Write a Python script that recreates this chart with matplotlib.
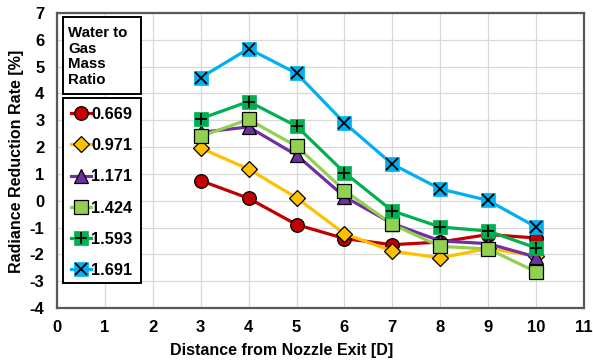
import numpy as np
import matplotlib.pyplot as plt
from matplotlib.patches import Rectangle

plt.rcParams["font.family"] = ["Liberation Sans", "DejaVu Sans"]
plt.rcParams["font.weight"] = "bold"
plt.rcParams["axes.unicode_minus"] = False

distance = [3, 4, 5, 6, 7, 8, 9, 10]
ratio_labels = ["0.669", "0.971", "1.171", "1.424", "1.593", "1.691"]

r_0669 = [0.75, 0.09, -0.89, -1.41, -1.64, -1.54, -1.26, -1.39]
r_0971 = [1.96, 1.18, 0.11, -1.23, -1.88, -2.13, -1.78, -2.06]
r_1171 = [2.55, 2.75, 1.70, 0.15, -0.85, -1.50, -1.60, -2.10]
r_1424 = [2.40, 3.03, 2.03, 0.38, -0.88, -1.70, -1.80, -2.65]
r_1593 = [3.06, 3.70, 2.78, 1.05, -0.38, -0.98, -1.13, -1.76]
r_1691 = [4.59, 5.67, 4.75, 2.90, 1.36, 0.44, 0.01, -0.98]

series = [r_0669, r_0971, r_1171, r_1424, r_1593, r_1691]
colors = ["#C00000", "#FFC000", "#7030A0", "#92D050", "#00B050", "#00B0F0"]
markers = ["o", "D", "^", "s", "s", "s"]
msizes = [9.8, 8.5, 9.5, 9.5, 9.5, 9.5]
overlay = [None, None, None, None, "+", "x"]

W, H = 593, 362
fig = plt.figure(figsize=(W / 100, H / 100), dpi=100)
ax = fig.add_axes([57 / W, 1 - 308 / H, (584 - 57) / W, (308 - 13) / H])


def fx(x):
    return x / W


def fy(y):
    # pixel row from top -> figure fraction
    return 1 - y / H


handles = []
for vals, lab, c, m, ms, ov in zip(series, ratio_labels, colors, markers, msizes, overlay):
    if ov is None:
        ln, = ax.plot(distance, vals, color=c, lw=2.3, marker=m, ms=ms,
                      mfc=c, mec="black", mew=0.9, label=lab)
        handles.append(ln)
    else:
        ln, = ax.plot(distance, vals, color=c, lw=2.3, marker="s", ms=ms,
                      mfc=c, mec=c, mew=0.5, label=lab)
        mk, = ax.plot(distance, vals, ls="none", marker=ov, ms=ms * 0.95,
                      mec="black", mew=1.3)
        handles.append((ln, mk))

ax.set_xlim(0, 11)
ax.set_ylim(-4, 7)
ax.set_xticks(range(0, 12))
ax.set_yticks(range(-4, 8))
ax.grid(True, color="#D9D9D9", lw=0.9)
ax.set_axisbelow(True)
ax.tick_params(length=0, labelsize=12, pad=9)
for lbl in ax.get_xticklabels() + ax.get_yticklabels():
    lbl.set_fontweight("bold")
for s in ax.spines.values():
    s.set_color("#595959")
    s.set_linewidth(1.6)

fig.text(fx(17), fy(161), "Radiance Reduction Rate [%]", rotation=90,
         ha="center", va="center", fontsize=11.5, fontweight="bold")
fig.text(fx(282), fy(351), "Distance from Nozzle Exit [D]",
         ha="center", va="center", fontsize=11.5, fontweight="bold")

# legend boxes (title box + entries box)
for x0, y0, x1, y1 in [(62.5, 17, 141, 94), (62.5, 98, 141, 283)]:
    fig.add_artist(Rectangle((fx(x0), fy(y1)), fx(x1) - fx(x0), fy(y0) - fy(y1),
                             transform=fig.transFigure, fc="white", ec="black",
                             lw=1.4, zorder=5))

fig.text(fx(68), fy(56.5), "Water to\nGas\nMass\nRatio",
         ha="left", va="center", fontsize=10.8, fontweight="bold",
         linespacing=1.13, zorder=6)

leg = fig.legend(handles, ratio_labels, loc="upper left",
                 bbox_to_anchor=(fx(66), fy(102)), bbox_transform=fig.transFigure,
                 fontsize=11.8, frameon=False, labelspacing=0.99,
                 handlelength=1.2, handletextpad=0.05, borderpad=0.3,
                 borderaxespad=0)
leg.set_zorder(7)
for t in leg.get_texts():
    t.set_fontweight("bold")

fig.savefig("out.png", dpi=100)
